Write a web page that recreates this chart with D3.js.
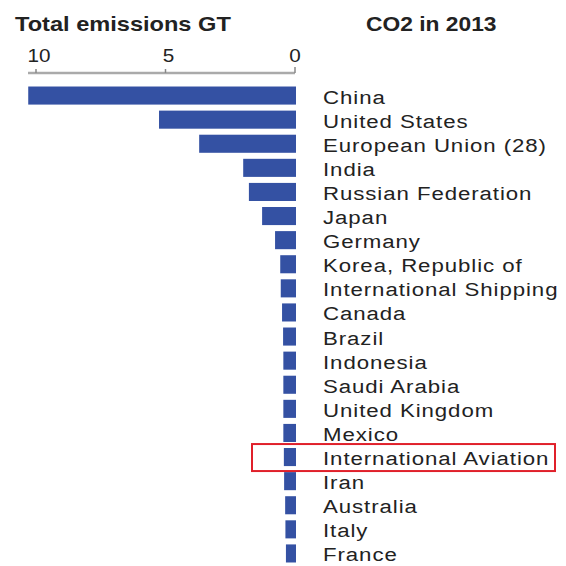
<!DOCTYPE html>
<html>
<head>
<meta charset="utf-8">
<script src="https://cdn.jsdelivr.net/npm/d3@7"></script>
<style>
  body { margin: 0; background: #fff; }
  text { font-family: "Liberation Sans", Arial, sans-serif; fill: #222; }
</style>
</head>
<body>
<div id="chart"></div>
<script>
var countries = ["China", "United States", "European Union (28)", "India", "Russian Federation",
  "Japan", "Germany", "Korea, Republic of", "International Shipping", "Canada", "Brazil",
  "Indonesia", "Saudi Arabia", "United Kingdom", "Mexico", "International Aviation",
  "Iran", "Australia", "Italy", "France"];
var emissions = [10.3, 5.25, 3.7, 2.0, 1.78, 1.27, 0.77, 0.57, 0.55, 0.5, 0.46,
  0.45, 0.45, 0.45, 0.45, 0.43, 0.42, 0.38, 0.37, 0.35];
var tickValues = [10, 5, 0];
var highlighted = "International Aviation";

var width = 566, height = 566;

var svg = d3.select("#chart").append("svg")
  .attr("width", width)
  .attr("height", height);

var x = d3.scaleLinear().domain([0, 10]).range([295, 36]);
var y = d3.scaleBand().domain(countries)
  .range([83.5, 83.5 + 24.1 * countries.length])
  .paddingInner(0.25).paddingOuter(0.125);

// titles
svg.append("text")
  .attr("transform", "translate(15,31) scale(1.18,1)")
  .attr("font-size", 20).attr("font-weight", "bold")
  .text("Total emissions GT");
svg.append("text")
  .attr("transform", "translate(366,31) scale(1.14,1)")
  .attr("font-size", 20).attr("font-weight", "bold")
  .text("CO2 in 2013");

// axis
var axisG = svg.append("g").attr("transform", "translate(0,73)");
axisG.append("line")
  .attr("x1", 28).attr("x2", x(0))
  .attr("stroke", "#aaa").attr("stroke-width", 2.5);
axisG.selectAll(".tick").data(tickValues).enter().append("line")
  .attr("x1", function(d) { return x(d); })
  .attr("x2", function(d) { return x(d); })
  .attr("y1", function(d) { return d === 0 ? -6 : -4; })
  .attr("y2", 0)
  .attr("stroke", "#888").attr("stroke-width", 1.5);
axisG.selectAll(".ticklabel").data(tickValues).enter().append("text")
  .attr("transform", function(d) { return "translate(" + (x(d) + (d === 0 ? 0 : 3)) + ",-11) scale(1.15,1)"; })
  .attr("text-anchor", "middle")
  .attr("font-size", 18)
  .text(function(d) { return d; });

// bars
svg.selectAll(".bar").data(countries).enter().append("rect")
  .attr("x", function(d, i) { return x(emissions[i]); })
  .attr("y", function(d) { return y(d); })
  .attr("width", function(d, i) { return x(0) - x(emissions[i]) + 1; })
  .attr("height", y.bandwidth())
  .attr("fill", "#3451a3");

// labels
svg.selectAll(".label").data(countries).enter().append("text")
  .attr("transform", function(d) {
    return "translate(323," + (y(d) + y.bandwidth() / 2 + 8) + ") scale(1.17,1)";
  })
  .attr("font-size", 19)
  .attr("letter-spacing", 0.8)
  .attr("fill", "#2a2a2a")
  .text(function(d) { return d; });

// highlight box
svg.append("rect")
  .attr("x", 252)
  .attr("y", y(highlighted) + y.bandwidth() / 2 - 13)
  .attr("width", 303)
  .attr("height", 27)
  .attr("fill", "none")
  .attr("stroke", "#e0202a")
  .attr("stroke-width", 2);
</script>
</body>
</html>
